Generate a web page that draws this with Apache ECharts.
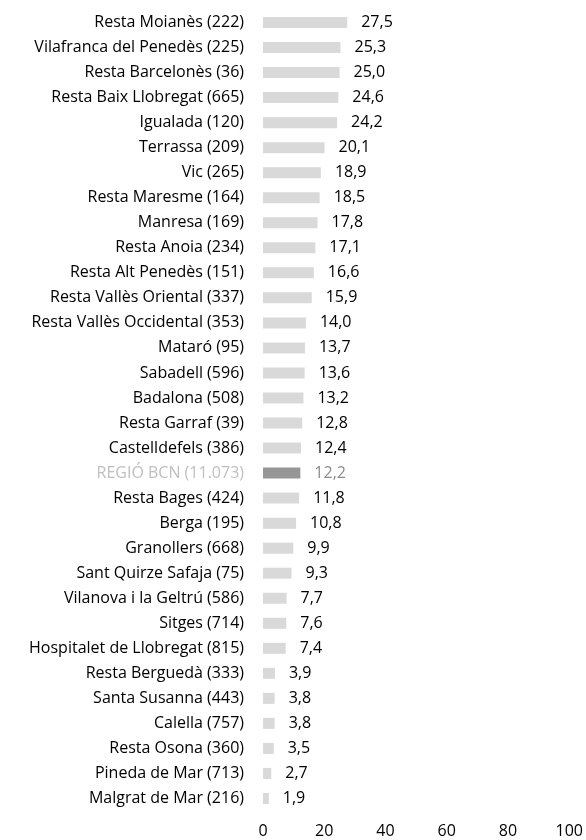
<!DOCTYPE html>
<html>
<head>
<meta charset="utf-8">
<script src="https://cdn.jsdelivr.net/npm/echarts@6/dist/echarts.min.js"></script>
<style>
  html, body { margin: 0; padding: 0; background: #fff; }
  #chart { width: 586px; height: 840px; }
</style>
</head>
<body>
<div id="chart"></div>
<script>
// Categories, top to bottom
const categories = [
  'Resta Moianès (222)',
  'Vilafranca del Penedès (225)',
  'Resta Barcelonès (36)',
  'Resta Baix Llobregat (665)',
  'Igualada (120)',
  'Terrassa (209)',
  'Vic (265)',
  'Resta Maresme (164)',
  'Manresa (169)',
  'Resta Anoia (234)',
  'Resta Alt Penedès (151)',
  'Resta Vallès Oriental (337)',
  'Resta Vallès Occidental (353)',
  'Mataró (95)',
  'Sabadell (596)',
  'Badalona (508)',
  'Resta Garraf (39)',
  'Castelldefels (386)',
  'REGIÓ BCN (11.073)',
  'Resta Bages (424)',
  'Berga (195)',
  'Granollers (668)',
  'Sant Quirze Safaja (75)',
  'Vilanova i la Geltrú (586)',
  'Sitges (714)',
  'Hospitalet de Llobregat (815)',
  'Resta Berguedà (333)',
  'Santa Susanna (443)',
  'Calella (757)',
  'Resta Osona (360)',
  'Pineda de Mar (713)',
  'Malgrat de Mar (216)'
];

const values = [
  27.5, 25.3, 25.0, 24.6, 24.2, 20.1, 18.9, 18.5, 17.8, 17.1, 16.6, 15.9,
  14.0, 13.7, 13.6, 13.2, 12.8, 12.4, 12.2, 11.8, 10.8, 9.9, 9.3, 7.7,
  7.6, 7.4, 3.9, 3.8, 3.8, 3.5, 2.7, 1.9
];

const xTicks = [0, 20, 40, 60, 80, 100];

// The regional total is drawn in a darker tone
const totalCategory = 'REGIÓ BCN (11.073)';

const FONT = 'Open Sans';
const FONT_SIZE = 16;
const fmt = v => v.toFixed(1).replace('.', ',');

const seriesData = values.map((v, i) => {
  const isTotal = categories[i] === totalCategory;
  return {
    value: v,
    itemStyle: { color: isTotal ? '#969696' : '#d9d9d9' },
    label: { color: isTotal ? '#8c8c8c' : '#000000' }
  };
});

const chart = echarts.init(document.getElementById('chart'), null, { renderer: 'canvas' });

chart.setOption({
  animation: false,
  grid: { left: 263, right: 13, top: 10, bottom: 29, containLabel: false },
  xAxis: {
    type: 'value',
    min: xTicks[0],
    max: xTicks[xTicks.length - 1],
    interval: 20,
    axisLine: { show: false },
    axisTick: { show: false },
    splitLine: { show: false },
    axisLabel: {
      margin: 12,
      fontFamily: FONT,
      fontSize: FONT_SIZE,
      color: '#000000',
      formatter: v => String(v)
    }
  },
  yAxis: {
    type: 'category',
    inverse: true,
    data: categories,
    axisLine: { show: false },
    axisTick: { show: false },
    splitLine: { show: false },
    axisLabel: {
      margin: 19,
      fontFamily: FONT,
      fontSize: FONT_SIZE,
      color: (val) => val === totalCategory ? '#bfbfbf' : '#000000'
    }
  },
  series: [{
    type: 'bar',
    data: seriesData,
    barCategoryGap: '56%',
    label: {
      show: true,
      position: 'right',
      distance: 14,
      fontFamily: FONT,
      fontSize: FONT_SIZE,
      formatter: p => fmt(p.value)
    }
  }]
});
</script>
</body>
</html>
